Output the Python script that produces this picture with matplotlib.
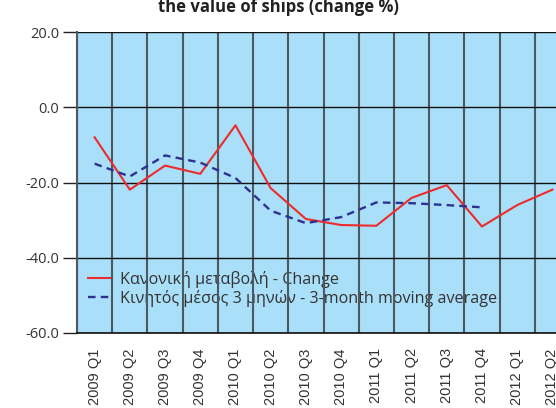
import matplotlib
matplotlib.use("Agg")
import matplotlib.pyplot as plt
import numpy as np

quarters = ["2009 Q1", "2009 Q2", "2009 Q3", "2009 Q4",
            "2010 Q1", "2010 Q2", "2010 Q3", "2010 Q4",
            "2011 Q1", "2011 Q2", "2011 Q3", "2011 Q4",
            "2012 Q1", "2012 Q2"]
change = [-8.0, -21.9, -15.5, -17.7, -4.8, -21.5, -29.7, -31.3,
          -31.5, -24.1, -20.7, -31.7, -26.0, -21.9]
moving_avg = [-15.0, -18.4, -12.8, -14.7, -18.8, -27.5, -30.8, -29.2,
              -25.3, -25.5, -26.0, -26.6]
y_ticks = [-60, -40, -20, 0, 20]

txt = "#333333"
fig = plt.figure(figsize=(5.56, 4.08), dpi=100)
# plot area runs a little past the right edge of the canvas
ax = fig.add_axes([77 / 556, 75 / 408, 493 / 556, 301 / 408])
ax.set_facecolor("#AADFF9")

x = np.arange(len(quarters))
ax.plot(x, change, color="#EE2B2B", lw=1.5,
        label="Κανονική μεταβολή - Change")
ax.plot(x[:len(moving_avg)], moving_avg, color="#2E3192", lw=1.7,
        dashes=(3.2, 2.2), label="Κινητός μέσος 3 μηνών - 3-month moving average")

ax.set_xlim(-0.5, len(quarters) - 0.5)
ax.set_ylim(-60, 20)
ax.set_yticks(y_ticks)
ax.set_yticklabels([f"{v:.1f}" for v in y_ticks],
                   family=["Open Sans", "DejaVu Sans"], fontsize=10.5, color=txt)
ax.tick_params(axis="y", length=10, width=1, color="#222222", pad=3)

ax.set_xticks(x)
ax.set_xticklabels(quarters, rotation=90, family="Liberation Sans",
                   fontsize=10.5, color=txt)
ax.set_xticks(np.arange(-0.5, len(quarters), 1), minor=True)
ax.tick_params(axis="x", which="both", length=0, pad=11)

ax.grid(axis="x", which="minor", color="#4d5960", lw=1.5)
ax.grid(axis="y", which="major", color="#111111", lw=1.0)
ax.set_axisbelow(True)

for side in ["top", "right"]:
    ax.spines[side].set_visible(False)
ax.spines["left"].set_color("#4d5960")
ax.spines["left"].set_linewidth(1.5)
ax.spines["bottom"].set_color("#111111")
ax.spines["bottom"].set_linewidth(1.2)

leg = ax.legend(loc="lower left", bbox_to_anchor=(0.0, 0.05), frameon=False,
                prop={"family": ["Open Sans", "DejaVu Sans"], "size": 11.6},
                handlelength=1.5, handletextpad=0.5, labelspacing=0.1,
                borderaxespad=0.3)
for t in leg.get_texts():
    t.set_color(txt)
# the legend sits underneath the grid lines
leg.set_zorder(0.3)

fig.text(0.5, 1 - 12 / 408, "the value of ships (change %)", ha="center",
         va="baseline", fontsize=12, fontweight="bold", color="#222222",
         family=["Open Sans", "DejaVu Sans"])

fig.savefig("out.png", dpi=100)
